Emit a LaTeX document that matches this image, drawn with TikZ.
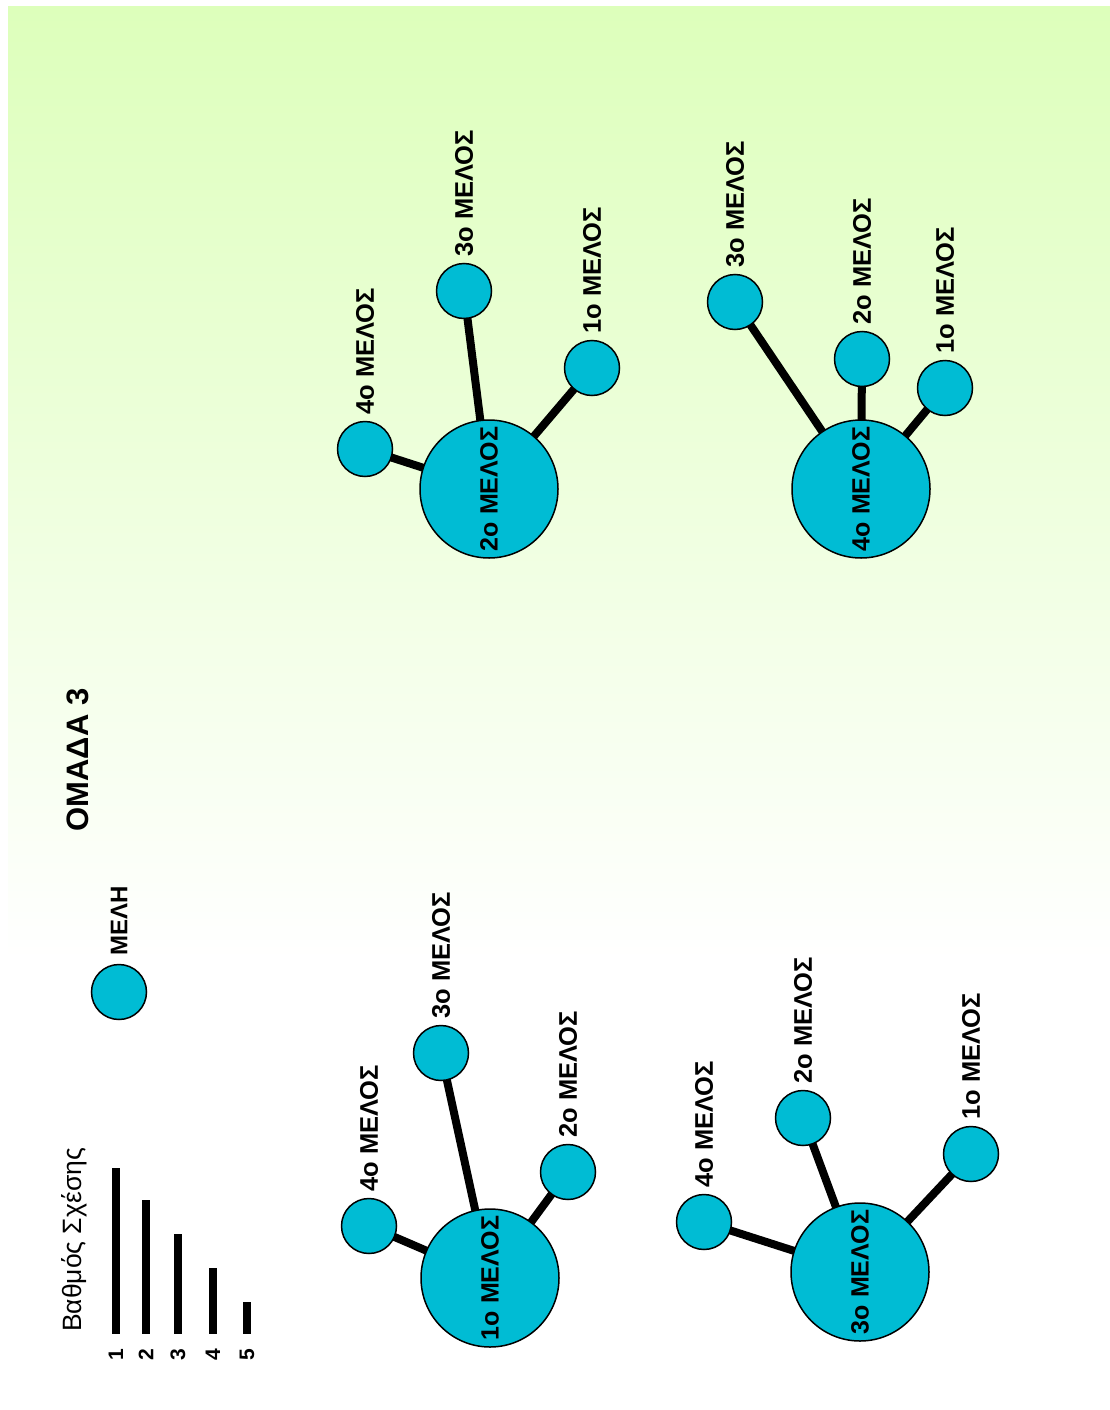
\documentclass[tikz,border=0pt]{standalone}
\usepackage{fontspec}
\setmainfont{Liberation Sans}
\definecolor{memb}{RGB}{0,188,212}
\definecolor{bgg}{RGB}{221,255,187}
\pgfdeclarelayer{bg}
\pgfdeclarelayer{edges}
\pgfsetlayers{bg,edges,main}
\begin{document}
\begin{tikzpicture}[x=1pt,y=-1pt,
  member/.style={circle,draw=black,line width=1.5pt,fill=memb,minimum size=55pt,inner sep=0pt},
  hub/.style={member,minimum size=138pt,rotate=90,font=\bfseries\fontsize{25}{25}\selectfont},
  lbl/.style={rotate=90,anchor=west,inner sep=0pt,font=\bfseries\fontsize{25.5}{25.5}\selectfont},
  digit/.style={rotate=90,inner sep=0pt,font=\bfseries\fontsize{21}{21}\selectfont},
  tie/.style={line width=8pt}]
\useasboundingbox (0,0) rectangle (1110,1410);
\begin{pgfonlayer}{bg}
\fill[white] (0,0) rectangle (1110,1410);
\begin{scope}[y=1pt]
  \shade[top color=bgg,bottom color=white] (8,-7) rectangle (1110,-960);
\end{scope}
\end{pgfonlayer}

% legend
\node[rotate=90,inner sep=0pt,font=\fontsize{26.5}{26.5}\selectfont] (title) at (74,1240) {Βαθμός Σχέσης};
\fill (112,1168) rectangle (120,1334);
\fill (142,1200) rectangle (150,1334);
\fill (174,1234) rectangle (182,1334);
\fill (209,1268) rectangle (217,1334);
\fill (243,1302) rectangle (251,1334);
\node[digit] (n1) at (116,1355) {1};
\node[digit] (n2) at (146,1355) {2};
\node[digit] (n3) at (178,1355) {3};
\node[digit] (n4) at (213,1355) {4};
\node[digit] (n5) at (247,1355) {5};

\node[rotate=90,inner sep=0pt,font=\bfseries\fontsize{31}{31}\selectfont] (grp) at (78,760) {ΟΜΑΔΑ 3};

\node[member] (leg) at (119,992) {};
\node[lbl,font=\bfseries\fontsize{24}{24}\selectfont] (legl) at ([yshift=8pt]leg.north) {ΜΕΛΗ};

% network A
\node[hub] (hubA) at (490,1278) {1ο ΜΕΛΟΣ};
\node[member] (a4) at (369,1226) {};
\node[member] (a3) at (441,1053) {};
\node[member] (a2) at (568,1172) {};
\node[lbl] (la4) at ([yshift=6pt]a4.north) {4ο ΜΕΛΟΣ};
\node[lbl] (la3) at ([yshift=6pt]a3.north) {3ο ΜΕΛΟΣ};
\node[lbl] (la2) at ([yshift=6pt]a2.north) {2ο ΜΕΛΟΣ};

% network B
\node[hub] (hubB) at (860,1272) {3ο ΜΕΛΟΣ};
\node[member] (b4) at (704,1222) {};
\node[member] (b2) at (803,1118) {};
\node[member] (b1) at (971,1154) {};
\node[lbl] (lb4) at ([yshift=6pt]b4.north) {4ο ΜΕΛΟΣ};
\node[lbl] (lb2) at ([yshift=6pt]b2.north) {2ο ΜΕΛΟΣ};
\node[lbl] (lb1) at ([yshift=6pt]b1.north) {1ο ΜΕΛΟΣ};

% network C
\node[hub] (hubC) at (489,489) {2ο ΜΕΛΟΣ};
\node[member] (c4) at (365,449) {};
\node[member] (c3) at (464,291) {};
\node[member] (c1) at (592,368) {};
\node[lbl] (lc4) at ([yshift=6pt]c4.north) {4ο ΜΕΛΟΣ};
\node[lbl] (lc3) at ([yshift=6pt]c3.north) {3ο ΜΕΛΟΣ};
\node[lbl] (lc1) at ([yshift=6pt]c1.north) {1ο ΜΕΛΟΣ};

% network D
\node[hub] (hubD) at (861,489) {4ο ΜΕΛΟΣ};
\node[member] (d3) at (735,302) {};
\node[member] (d2) at (862,359) {};
\node[member] (d1) at (945,388) {};
\node[lbl] (ld3) at ([yshift=6pt]d3.north) {3ο ΜΕΛΟΣ};
\node[lbl] (ld2) at ([yshift=6pt]d2.north) {2ο ΜΕΛΟΣ};
\node[lbl] (ld1) at ([yshift=6pt]d1.north) {1ο ΜΕΛΟΣ};

\begin{pgfonlayer}{edges}
  \draw[tie] (hubA.center) -- (a4.center);
  \draw[tie] (hubA.center) -- (a3.center);
  \draw[tie] (hubA.center) -- (a2.center);
  \draw[tie] (hubB.center) -- (b4.center);
  \draw[tie] (hubB.center) -- (b2.center);
  \draw[tie] (hubB.center) -- (b1.center);
  \draw[tie] (hubC.center) -- (c4.center);
  \draw[tie] (hubC.center) -- (c3.center);
  \draw[tie] (hubC.center) -- (c1.center);
  \draw[tie] (hubD.center) -- (d3.center);
  \draw[tie] (hubD.center) -- (d2.center);
  \draw[tie] (hubD.center) -- (d1.center);
\end{pgfonlayer}
\end{tikzpicture}
\end{document}
